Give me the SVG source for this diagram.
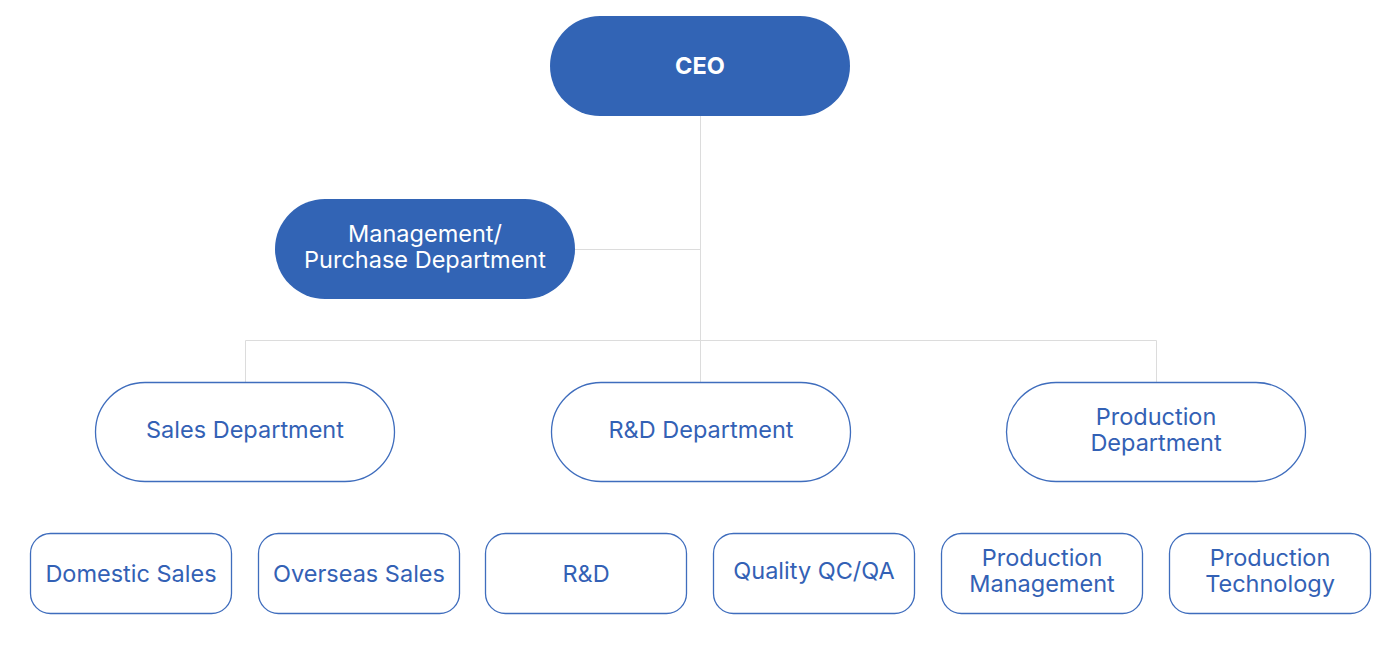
<svg xmlns="http://www.w3.org/2000/svg" width="1400" height="664" viewBox="0 0 1400 664">
<style>
.solid{fill:#3264b5}
.outline{fill:#fff;stroke:#3f6dbd;stroke-width:1.3}
.tw{fill:#fff;font-family:Inter,"Noto Sans",sans-serif;font-size:23.5px;text-anchor:middle}
.tb{fill:#3361b5;font-family:Inter,"Noto Sans",sans-serif;font-size:23.5px;text-anchor:middle}
.conn{stroke:#dcdcdc;stroke-width:1;fill:none}
</style>
<rect width="1400" height="664" fill="#fff"/>
<g id="connectors">
<path class="conn" d="M700.5 116V382M575 249.5H700.5M245.5 340.5H1156.5M245.5 340.5V382M1156.5 340.5V382"/>
</g>
<g id="ceo">
<rect class="solid" x="550" y="16" width="300" height="100" rx="50"/>
<text class="tw" x="700" y="74" font-weight="700">CEO</text>
</g>
<g id="management">
<rect class="solid" x="275" y="199" width="300" height="100" rx="50"/>
<text class="tw" x="425" y="241.5">Management/</text>
<text class="tw" x="425" y="267.5">Purchase Department</text>
</g>
<g id="sales">
<rect class="outline" x="95.5" y="382.5" width="299" height="99" rx="49.5"/>
<text class="tb" x="245" y="438">Sales Department</text>
</g>
<g id="rnd-dept">
<rect class="outline" x="551.5" y="382.5" width="299" height="99" rx="49.5"/>
<text class="tb" x="701" y="438">R&amp;D Department</text>
</g>
<g id="production">
<rect class="outline" x="1006.5" y="382.5" width="299" height="99" rx="49.5"/>
<text class="tb" x="1156" y="425">Production</text>
<text class="tb" x="1156" y="451">Department</text>
</g>
<g id="domestic">
<rect class="outline" x="30.5" y="533.5" width="201" height="80" rx="20"/>
<text class="tb" x="131" y="582">Domestic Sales</text>
</g>
<g id="overseas">
<rect class="outline" x="258.5" y="533.5" width="201" height="80" rx="20"/>
<text class="tb" x="359" y="582">Overseas Sales</text>
</g>
<g id="rnd">
<rect class="outline" x="485.5" y="533.5" width="201" height="80" rx="20"/>
<text class="tb" x="586" y="582">R&amp;D</text>
</g>
<g id="quality">
<rect class="outline" x="713.5" y="533.5" width="201" height="80" rx="20"/>
<text class="tb" x="814" y="579">Quality QC/QA</text>
</g>
<g id="prod-mgmt">
<rect class="outline" x="941.5" y="533.5" width="201" height="80" rx="20"/>
<text class="tb" x="1042" y="566">Production</text>
<text class="tb" x="1042" y="592">Management</text>
</g>
<g id="prod-tech">
<rect class="outline" x="1169.5" y="533.5" width="201" height="80" rx="20"/>
<text class="tb" x="1270" y="566">Production</text>
<text class="tb" x="1270" y="592">Technology</text>
</g>
</svg>
